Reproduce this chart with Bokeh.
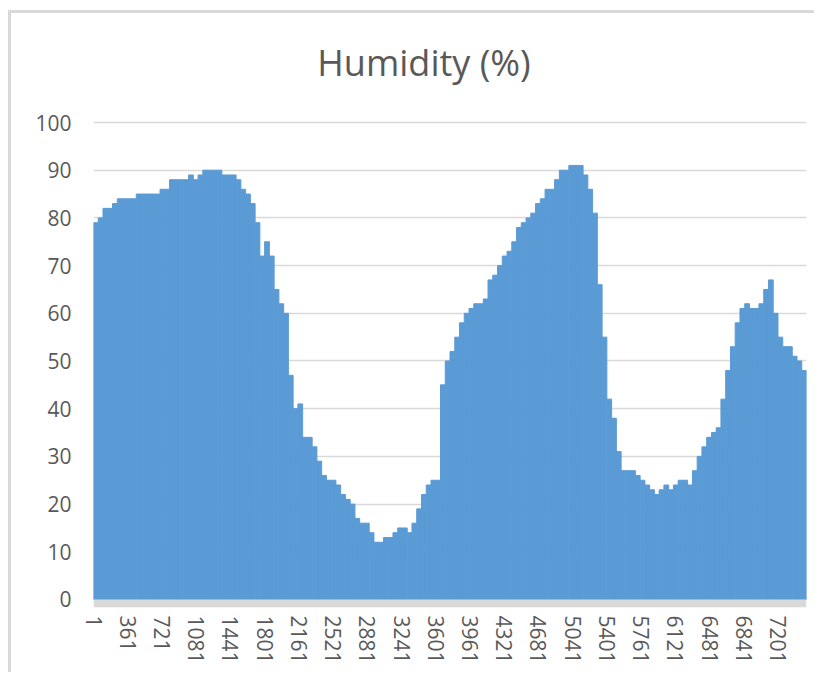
from bokeh.plotting import figure
from bokeh.models import FixedTicker, BoxAnnotation, Range1d, Label
from bokeh.embed import file_html
from bokeh.resources import INLINE

# Humidity readings, averaged over consecutive blocks of 50 samples (sample 1..7500)
block_size = 50
humidity = [
    79, 80, 82, 82, 83, 84, 84, 84, 84, 85,
    85, 85, 85, 85, 86, 86, 88, 88, 88, 88,
    89, 88, 89, 90, 90, 90, 90, 89, 89, 89,
    88, 86, 85, 83, 79, 72, 75, 72, 65, 62,
    60, 47, 40, 41, 34, 34, 32, 29, 26, 25,
    25, 24, 22, 21, 20, 17, 16, 16, 14, 12,
    12, 13, 13, 14, 15, 15, 14, 16, 19, 22,
    24, 25, 25, 45, 50, 52, 55, 58, 60, 61,
    62, 62, 63, 67, 68, 70, 72, 73, 75, 78,
    79, 80, 81, 83, 84, 86, 86, 88, 90, 90,
    91, 91, 91, 89, 86, 81, 66, 55, 42, 38,
    31, 27, 27, 27, 26, 25, 24, 23, 22, 23,
    24, 23, 24, 25, 25, 24, 27, 30, 32, 34,
    35, 36, 42, 48, 53, 58, 61, 62, 61, 61,
    62, 65, 67, 60, 55, 53, 53, 51, 50, 48,
]
tick_samples = [1, 361, 721, 1081, 1441, 1801, 2161, 2521, 2881, 3241, 3601,
                3961, 4321, 4681, 5041, 5401, 5761, 6121, 6481, 6841, 7201]
y_ticks = [0, 10, 20, 30, 40, 50, 60, 70, 80, 90, 100]
title_text = "Humidity (%)"

n_samples = block_size * len(humidity)
centers = [1 + block_size * k + (block_size - 1) / 2 for k in range(len(humidity))]

label_color = "#595959"
font = "Open Sans"

# the frame also covers the title area above the 100 line, so the title can be drawn in it
p = figure(width=806, height=662, output_backend="svg", toolbar_location=None,
           x_range=Range1d(0.5, n_samples + 0.5), y_range=Range1d(-1.68, 119.29),
           min_border_left=82, min_border_right=11, min_border_top=17,
           min_border_bottom=68)
p.styles = {"border-left": "3px solid #d9d9d9", "border-top": "3px solid #d9d9d9",
            "margin-top": "10px", "margin-left": "8px"}

p.add_layout(Label(x=(n_samples + 1) / 2, y=112.6, x_offset=-26,
                   text=title_text, text_align="center", text_baseline="middle",
                   text_font=font, text_font_size="36px", text_color=label_color))

p.vbar(x=centers, top=humidity, width=block_size, bottom=0,
       fill_color="#5b9bd5", line_color="#5b9bd5", line_width=1)

p.add_layout(BoxAnnotation(bottom=-1.68, top=0, fill_color="#d9d9d9", fill_alpha=1,
                           line_alpha=0))

p.outline_line_color = None
p.xgrid.visible = False
p.ygrid.grid_line_color = "#d9d9d9"
p.ygrid.grid_line_width = 1.3
p.ygrid.ticker = FixedTicker(ticks=y_ticks)

p.yaxis.ticker = FixedTicker(ticks=y_ticks)
p.xaxis.ticker = FixedTicker(ticks=tick_samples)
p.xaxis.major_label_orientation = "vertical"
for ax in (p.xaxis, p.yaxis):
    ax.axis_line_color = None
    ax.major_tick_line_color = None
    ax.minor_tick_line_color = None
    ax.major_tick_out = 0
    ax.major_tick_in = 0
    ax.major_label_text_font = font
    ax.major_label_text_font_size = "21px"
    ax.major_label_text_color = label_color
p.yaxis.major_label_standoff = 22
p.xaxis.major_label_standoff = 8

open("out.html", "w").write(file_html(p, INLINE))
